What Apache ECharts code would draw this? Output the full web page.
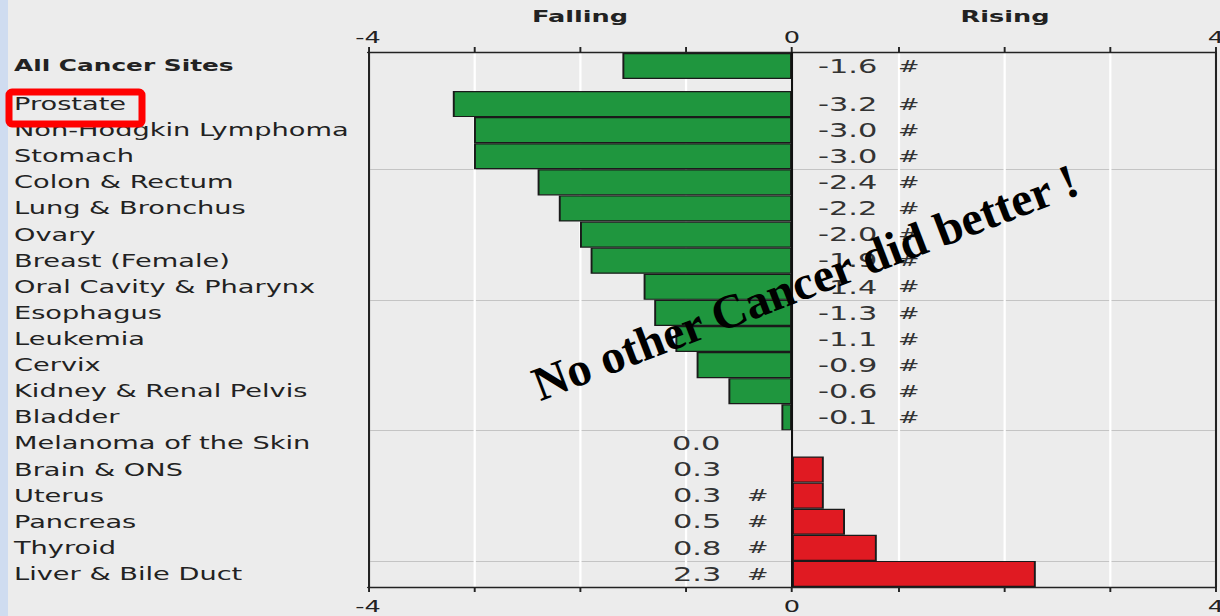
<!DOCTYPE html>
<html>
<head>
<meta charset="utf-8">
<title>Cancer death rate trends by site</title>
<script src="https://cdn.jsdelivr.net/npm/echarts@6/dist/echarts.min.js"></script>
<style>
  html, body { margin: 0; padding: 0; width: 1220px; height: 616px; overflow: hidden; background: #ececec; }
  #strip { position: absolute; left: 0; top: 0; width: 8px; height: 616px; background: #cfdcf0; }
  #chart { position: absolute; left: 0; top: 0; width: 762px; height: 616px; transform-origin: 0 0; }
  #notes { position: absolute; left: 0; top: 0; width: 1220px; height: 616px; pointer-events: none; }
</style>
</head>
<body>
<div id="strip"></div>
<div id="chart"></div>
<div id="notes"></div>
<script>
// Annual percent change in death rates: overall row plus individual sites
const overallLabel = 'All Cancer Sites';
const overallValue = -1.6;
const overallFlag = true;

const sites = [
  'Prostate', 'Non-Hodgkin Lymphoma', 'Stomach', 'Colon & Rectum', 'Lung & Bronchus',
  'Ovary', 'Breast (Female)', 'Oral Cavity & Pharynx', 'Esophagus', 'Leukemia',
  'Cervix', 'Kidney & Renal Pelvis', 'Bladder', 'Melanoma of the Skin', 'Brain & ONS',
  'Uterus', 'Pancreas', 'Thyroid', 'Liver & Bile Duct'
];
const changes = [-3.2, -3.0, -3.0, -2.4, -2.2, -2.0, -1.9, -1.4, -1.3, -1.1, -0.9, -0.6, -0.1, 0.0, 0.3, 0.3, 0.5, 0.8, 2.3];
// '#' marks a statistically significant trend
const significant = [true, true, true, true, true, true, true, true, true, true, true, true, true, false, false, true, true, true, true];

const labeledTicks = [-4, 0, 4];
const sideTitles = ['Falling', 'Rising'];
const calloutText = 'No other Cancer did better !';

// The chart is drawn in a narrower canvas and stretched horizontally
const CHART_W = 762;
const STRETCH = 1220 / CHART_W;
const sx = v => v / STRETCH;
document.getElementById('chart').style.transform = 'scaleX(' + STRETCH + ')';

const GREEN = '#1f963e';
const RED = '#e01a22';
const INK = '#222';
const FONT = 'DejaVu Sans';

function barItem(v, flag) {
  const neg = v < 0;
  return {
    value: v,
    itemStyle: { color: neg ? GREEN : RED },
    label: {
      position: neg ? 'right' : 'left',
      distance: neg ? sx(26) : sx(24),
      formatter: '{' + (neg ? 'n' : 'p') + '|' + v.toFixed(1) + '}{h|' + (flag ? '#' : ' ') + '}'
    }
  };
}

const barBase = {
  type: 'bar',
  barCategoryGap: '0%',
  itemStyle: { borderColor: '#1a1a1a', borderWidth: 1.2 },
  label: {
    show: true,
    fontFamily: FONT,
    fontSize: 19,
    color: '#333',
    rich: {
      n: { width: sx(80), align: 'left', fontFamily: FONT, fontSize: 19, color: '#333' },
      p: { width: sx(74), align: 'left', fontFamily: FONT, fontSize: 19, color: '#333' },
      h: { width: sx(21), align: 'left', fontFamily: FONT, fontSize: 16, color: '#333' }
    }
  },
  emphasis: { disabled: true },
  animation: false
};

const gridLeft = sx(368);
const gridRight = CHART_W - sx(1216);
const hiddenX = gi => ({ gridIndex: gi, type: 'value', min: -4, max: 4, interval: 1, show: false });
const frameX = (pos, margin, showSplit) => ({
  gridIndex: 0, type: 'value', position: pos, min: -4, max: 4, interval: 1,
  axisLine: { show: true, onZero: false, lineStyle: { color: INK, width: 1.3 } },
  axisTick: { show: true, inside: false, length: 5, lineStyle: { color: INK, width: 1.2 } },
  axisLabel: {
    margin: margin, fontFamily: FONT, fontSize: 16, color: INK,
    formatter: v => labeledTicks.includes(v) ? String(v) : ''
  },
  splitLine: { show: showSplit, lineStyle: { color: '#ffffff', width: 1.4 } }
});
const frameY = pos => ({
  gridIndex: 0, type: 'value', position: pos, min: 0, max: 1,
  axisLine: { show: true, onZero: false, lineStyle: { color: INK, width: 1.3 } },
  axisTick: { show: false }, axisLabel: { show: false }, splitLine: { show: false }
});
const catLabel = (bold, size) => ({
  interval: 0, align: 'left', margin: sx(368 - 14),
  fontFamily: FONT, fontSize: size, fontWeight: bold ? 'bold' : 'normal', color: INK
});

const chart = echarts.init(document.getElementById('chart'), null, { renderer: 'svg', width: CHART_W, height: 616 });
chart.setOption({
  animation: false,
  backgroundColor: 'transparent',
  grid: [
    { left: gridLeft, right: gridRight, top: 52, bottom: 29, outerBoundsMode: 'none' },
    { left: gridLeft, right: gridRight, top: 53, height: 26, outerBoundsMode: 'none' },
    { left: gridLeft, right: gridRight, top: 91, height: 496, outerBoundsMode: 'none' }
  ],
  xAxis: [frameX('top', 7, true), frameX('bottom', 11, false), hiddenX(1), hiddenX(2)],
  yAxis: [
    frameY('left'),
    frameY('right'),
    {
      gridIndex: 1, type: 'category', inverse: true, data: [overallLabel],
      axisLine: { show: false }, axisTick: { show: false }, splitLine: { show: false },
      axisLabel: catLabel(true, 15.5)
    },
    {
      gridIndex: 2, type: 'category', inverse: true, data: sites,
      axisLine: { show: false }, axisTick: { show: false },
      axisLabel: catLabel(false, 17),
      splitLine: {
        show: true,
        interval: index => index % 5 === 3,
        lineStyle: { color: '#c4c4c4', width: 1 }
      }
    }
  ],
  graphic: sideTitles.map((t, i) => ({
    type: 'text', x: sx(i === 0 ? 580 : 1005), y: 16,
    style: { text: t, fill: INK, font: 'bold 16px "DejaVu Sans"', align: 'center', verticalAlign: 'middle' }
  })),
  series: [
    {
      // zero reference line across the full plot height
      type: 'line', xAxisIndex: 0, yAxisIndex: 0, data: [[0, 0], [0, 1]],
      symbol: 'none', z: 5, silent: true,
      lineStyle: { color: '#111', width: 1.3 }
    },
    Object.assign({}, barBase, {
      xAxisIndex: 2, yAxisIndex: 2,
      data: [barItem(overallValue, overallFlag)]
    }),
    Object.assign({}, barBase, {
      xAxisIndex: 3, yAxisIndex: 3,
      data: changes.map((v, i) => barItem(v, significant[i]))
    })
  ]
});

// Annotations drawn over the chart: highlight box and callout text
const notes = echarts.init(document.getElementById('notes'), null, { renderer: 'svg', width: 1220, height: 616 });
const theta = 21 * Math.PI / 180;
notes.setOption({
  backgroundColor: 'transparent',
  graphic: [
    {
      type: 'rect', shape: { x: 9, y: 92, width: 133, height: 32, r: 3 },
      style: { fill: 'transparent', stroke: '#ff0000', lineWidth: 7 }
    },
    {
      type: 'text', x: 805, y: 282, rotation: theta,
      style: {
        text: calloutText, fill: '#000',
        font: 'bold 48px "Liberation Serif"', align: 'center', verticalAlign: 'middle'
      }
    }
  ]
});
</script>
</body>
</html>
